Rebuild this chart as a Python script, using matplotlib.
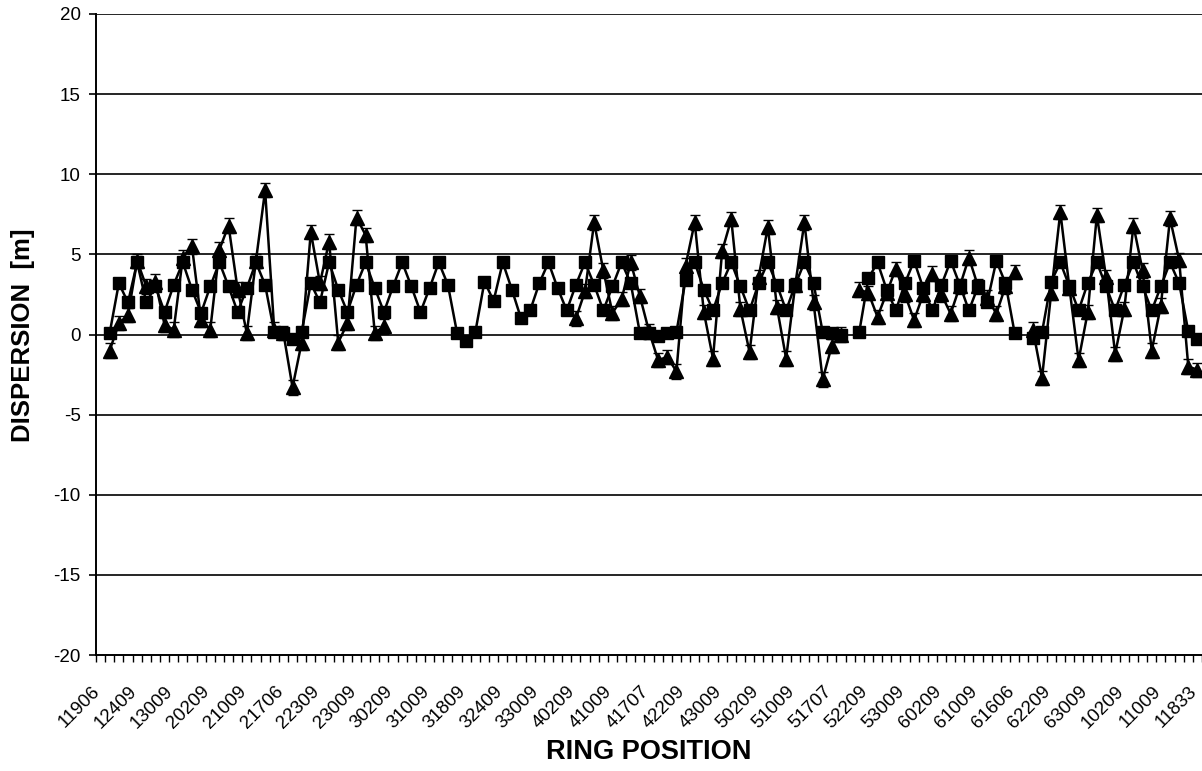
import numpy as np
import matplotlib
matplotlib.use("Agg")
import matplotlib.pyplot as plt
import matplotlib.transforms as mtransforms

plt.rcParams['font.family'] = ['Liberation Sans', 'DejaVu Sans']
plt.rcParams['axes.unicode_minus'] = False

nan = np.nan

# ring position labels, one every 4 categories
ring_labels = ['11906', '12409', '13009', '20209', '21009', '21706', '22309',
               '23009', '30209', '31009', '31809', '32409', '33009', '40209',
               '41009', '41707', '42209', '43009', '50209', '51009', '51707',
               '52209', '53009', '60209', '61009', '61606', '62209', '63009',
               '10209', '11009', '11833']

# dispersion, square markers
disp_sq = [nan, 0.1, 3.2, 2.0, 4.5, 2.0, 3.0, 1.4, 3.1, 4.5,
           2.8, 1.35, 3.0, 4.5, 3.0, 1.4, 2.9, 4.5, 3.1, 0.15,
           0.1, -0.3, 0.15, 3.2, 2.0, 4.5, 2.8, 1.4, 3.1, 4.5,
           2.9, 1.4, 3.0, 4.5, 3.0, 1.4, 2.9, 4.5, 3.1, 0.1,
           -0.4, 0.15, 3.3, 2.1, 4.5, 2.8, 1.0, 1.5, 3.2, 4.5,
           2.9, 1.5, 3.1, 4.5, 3.1, 1.5, 3.0, 4.5, 3.2, 0.1,
           0.1, -0.1, 0.1, 0.15, 3.4, 4.5, 2.8, 1.5, 3.2, 4.5,
           3.0, 1.5, 3.2, 4.5, 3.1, 1.5, 3.1, 4.5, 3.2, 0.15,
           0.1, 0.0, nan, 0.15, 3.5, 4.5, 2.8, 1.5, 3.2, 4.6,
           2.9, 1.5, 3.1, 4.6, 3.1, 1.5, 3.0, 2.0, 4.6, 3.2,
           0.1, nan, -0.2, 0.15, 3.3, 4.5, 3.0, 1.5, 3.2, 4.5,
           3.0, 1.5, 3.1, 4.5, 3.0, 1.5, 3.0, 4.5, 3.2, 0.2,
           -0.25]

# dispersion, triangle markers (with error bars)
disp_tr = [nan, -1.0, 0.7, 1.2, 4.6, 3.0, 3.3, 0.6, 0.3, 4.8,
           5.5, 0.9, 0.3, 5.3, 6.8, 2.8, 0.1, 4.6, 9.0, 0.3,
           0.1, -3.3, -0.5, 6.4, 3.2, 5.8, -0.5, 0.7, 7.3, 6.2,
           0.1, 0.5, nan, nan, nan, nan, nan, nan, nan, nan,
           nan, nan, nan, nan, nan, nan, nan, nan, nan, nan,
           nan, nan, 1.0, 2.7, 7.0, 4.0, 1.35, 2.2, 4.5, 2.4,
           0.2, -1.6, -1.4, -2.3, 4.3, 7.0, 1.4, -1.5, 5.2, 7.2,
           1.6, -1.1, 3.6, 6.7, 1.7, -1.5, 3.1, 7.0, 2.0, -2.8,
           -0.7, 0.0, nan, 2.8, 2.6, 1.1, 2.6, 4.1, 2.5, 0.9,
           2.5, 3.8, 2.5, 1.3, 3.0, 4.8, 3.0, 2.3, 1.3, 3.0,
           3.9, nan, 0.3, -2.7, 2.6, 7.65, 2.9, -1.6, 1.4, 7.45,
           3.6, -1.2, 1.6, 6.8, 4.0, -1.0, 1.8, 7.25, 4.65, -2.0,
           -2.2]
tr_err = 0.45

n = len(disp_sq)
x = np.arange(n)

fig = plt.figure(figsize=(12.02, 7.71), dpi=100)
ax = fig.add_axes([96 / 1202, (771 - 655) / 771, 1106 / 1202, 641 / 771])

# horizontal grid every 5
for yv in range(-15, 21, 5):
    ax.axhline(yv, color='black', lw=1.2, zorder=1)

ax.plot(x, disp_sq, color='black', lw=1.8, marker='s', markersize=8,
        markerfacecolor='black', markeredgecolor='black', zorder=3)
ax.errorbar(x, disp_tr, yerr=tr_err, color='black', lw=1.8, marker='^',
            markersize=9.5, elinewidth=1.0, capsize=3.5, capthick=1.0, zorder=4)

ax.set_xlim(-0.5, n - 0.5)
ax.set_ylim(-20, 20)
ax.set_yticks(range(-20, 21, 5))
ax.tick_params(axis='y', direction='out', length=5, width=1.2, pad=6,
               labelsize=13.5)

# category ticks at boundaries, labels at centres
ax.set_xticks(np.arange(-0.5, n, 1.0), minor=True)
ax.set_xticks(x[::4])
ax.set_xticklabels(ring_labels, rotation=45, ha='right',
                   rotation_mode='anchor', fontsize=13.5)
ax.tick_params(axis='x', which='major', length=0, pad=20)
ax.tick_params(axis='x', which='minor', direction='out', length=5, width=1.0)
shift = mtransforms.ScaledTranslation(-9 / 100, 0, fig.dpi_scale_trans)
for lab in ax.get_xticklabels():
    lab.set_transform(lab.get_transform() + shift)

for side in ['top', 'right']:
    ax.spines[side].set_visible(False)
ax.spines['left'].set_linewidth(1.4)
ax.spines['bottom'].set_linewidth(1.4)

fig.text(649 / 1202, 1 - 752 / 771, 'RING POSITION', ha='center',
         va='center', fontsize=19.5, fontweight='bold')
fig.text(23 / 1202, 1 - 335 / 771, 'DISPERSION  [m]', ha='center',
         va='center', rotation=90, fontsize=18.5, fontweight='bold')

fig.savefig('out.png', dpi=100)
